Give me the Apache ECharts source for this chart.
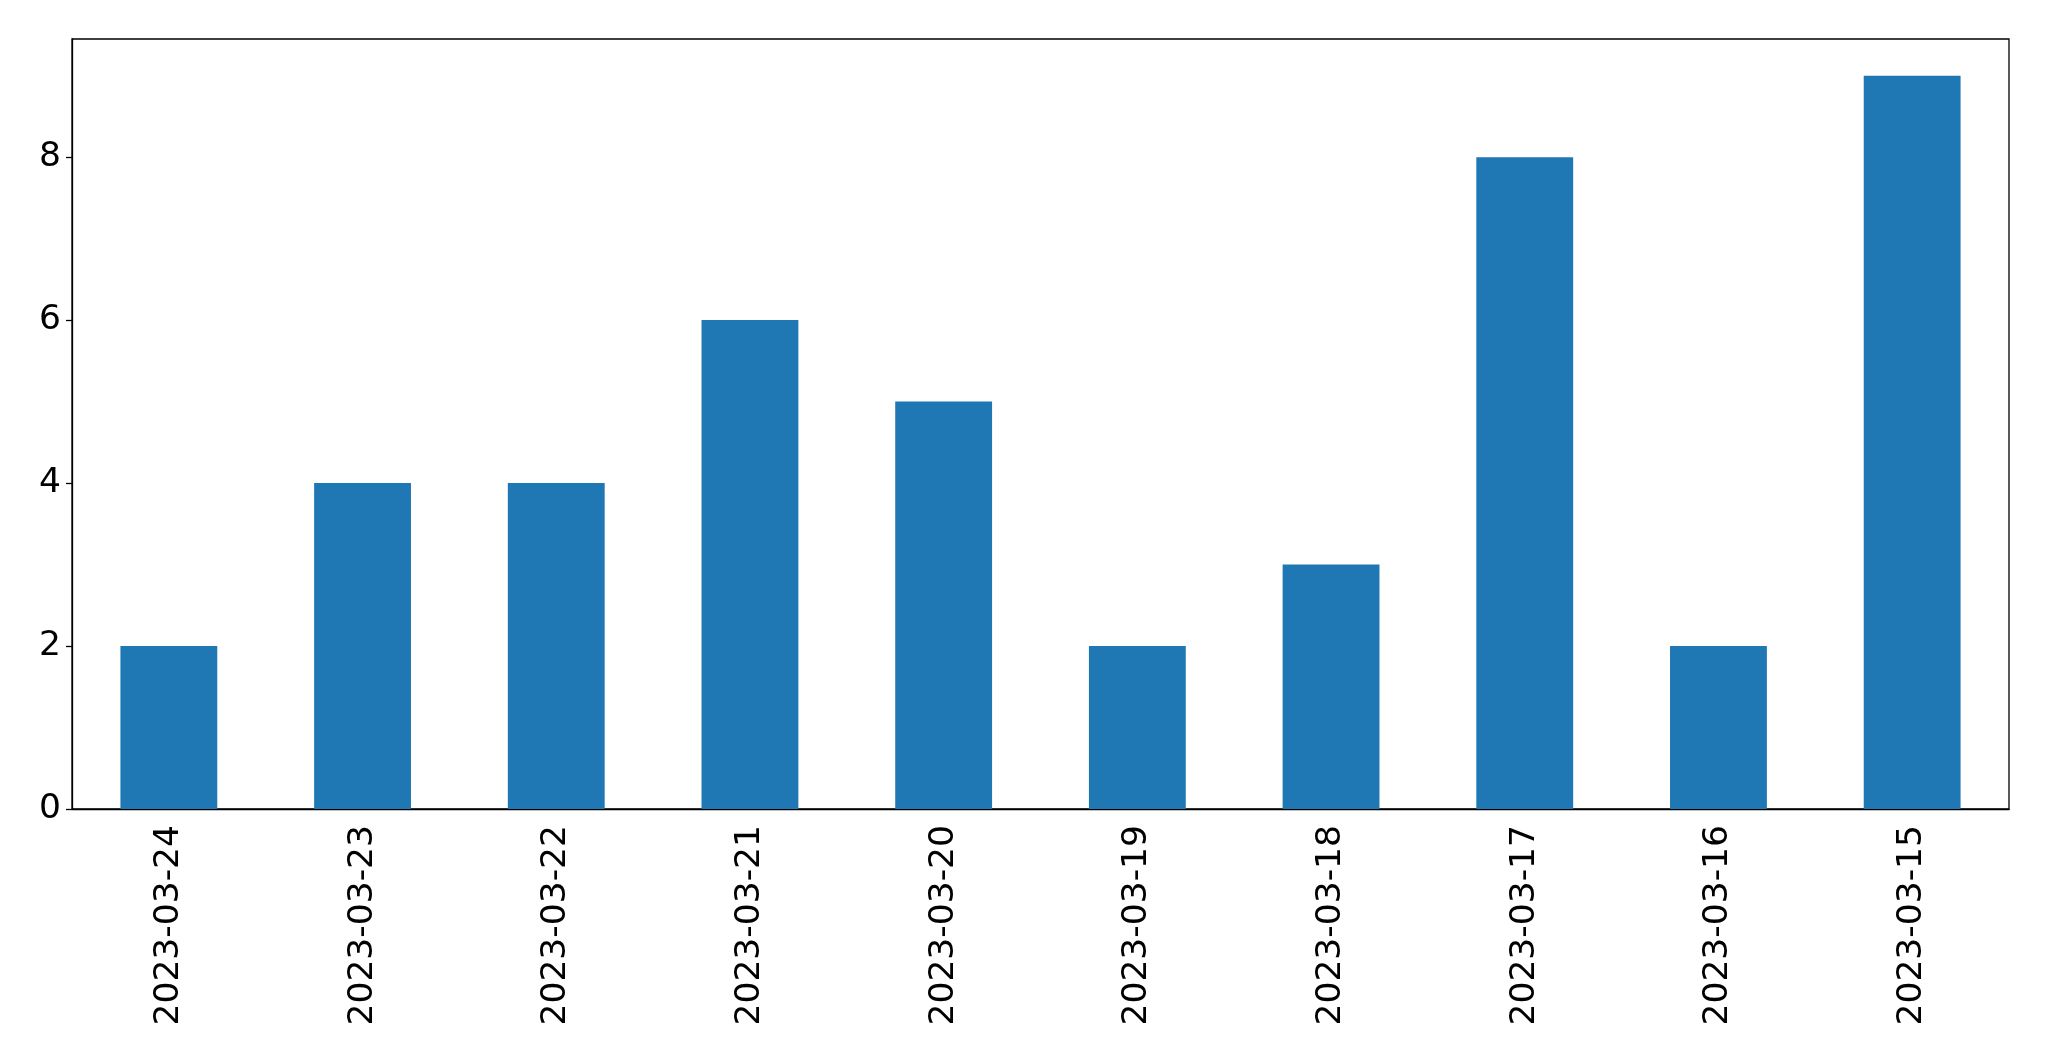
<!DOCTYPE html>
<html>
<head>
<meta charset="utf-8">
<script src="https://cdn.jsdelivr.net/npm/echarts@6/dist/echarts.min.js"></script>
<style>html,body{margin:0;padding:0;background:#fff}#c{width:2049px;height:1061px}</style>
</head>
<body>
<div id="c"></div>
<script>
const categories = ['2023-03-24','2023-03-23','2023-03-22','2023-03-21','2023-03-20','2023-03-19','2023-03-18','2023-03-17','2023-03-16','2023-03-15'];
const values = [2,4,4,6,5,2,3,8,2,9];
const yTicks = [0,2,4,6,8];

const chart = echarts.init(document.getElementById('c'), null, {renderer:'canvas'});
chart.setOption({
  animation:false,
  backgroundColor:'#fff',
  grid:{left:72, top:39, right:40, bottom:252, show:true, borderColor:'#000', borderWidth:1.3, containLabel:false},
  xAxis:{
    type:'category', data:categories, boundaryGap:true,
    axisLine:{lineStyle:{color:'#000', width:1.3}},
    axisTick:{alignWithLabel:true, length:6, lineStyle:{color:'#000', width:1.3}},
    axisLabel:{rotate:90, margin:16, fontSize:34.5, color:'#000', fontFamily:'DejaVu Sans', interval:0}
  },
  yAxis:{
    type:'value', min:0, max:9.45, interval:2,
    splitLine:{show:false},
    axisLine:{show:true, lineStyle:{color:'#000', width:1.3}},
    axisTick:{show:true, length:6, customValues:yTicks, lineStyle:{color:'#000', width:1.3}},
    axisLabel:{margin:11, fontSize:34.5, color:'#000', fontFamily:'DejaVu Sans', customValues:yTicks, padding:[5,0,0,0]}
  },
  series:[{type:'bar', data:values, barWidth:'50%', itemStyle:{color:'#1f77b4'}}]
});
</script>
</body>
</html>
